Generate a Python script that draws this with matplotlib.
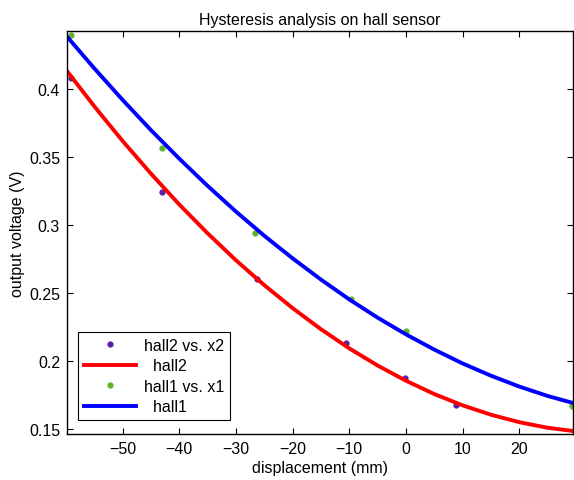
import numpy as np
import matplotlib
matplotlib.use("Agg")
import matplotlib.pyplot as plt

x2 = [-59.1, -43.0, -26.3, -10.6, -0.2, 8.8]
hall2_pts = [0.4081, 0.3243, 0.2603, 0.2132, 0.1875, 0.1676]
x1 = [-59.1, -43.0, -26.6, -9.7, 0.0, 29.3]
hall1_pts = [0.4397, 0.3566, 0.2941, 0.2456, 0.2221, 0.1669]

# fitted curves, sampled along the displacement axis
xc = [-59.8, -55, -50, -45, -40, -35, -30, -25, -20, -15, -10, -5,
      0, 5, 10, 15, 20, 25, 29.5]
hall2_fit = [0.4132, 0.3873, 0.3618, 0.3378, 0.3151, 0.2939, 0.2741, 0.2558,
             0.2389, 0.2234, 0.2093, 0.1967, 0.1855, 0.1757, 0.1674, 0.1605,
             0.1550, 0.1509, 0.1485]
hall1_fit = [0.4385, 0.4152, 0.3920, 0.3698, 0.3488, 0.3288, 0.3099, 0.2921,
             0.2755, 0.2599, 0.2453, 0.2319, 0.2196, 0.2084, 0.1982, 0.1892,
             0.1812, 0.1743, 0.1691]

xticks = [-50, -40, -30, -20, -10, 0, 10, 20]
yticks = [0.15, 0.2, 0.25, 0.3, 0.35, 0.4]

fs = 11.5
plt.rcParams['font.family'] = ['Liberation Sans', 'DejaVu Sans']
plt.rcParams['font.size'] = fs

fig = plt.figure(figsize=(5.74, 4.81), dpi=100)
ax = fig.add_axes([67/574, 46/481, 506/574, 403/481])

ax.plot(x2, hall2_pts, '.', color='#5b1fa6', markersize=7, label='hall2 vs. x2')
ax.plot(xc, hall2_fit, '-', color='#ff0000', linewidth=2.8, label='  hall2')
ax.plot(x1, hall1_pts, '.', color='#5fb526', markersize=7, label='hall1 vs. x1')
ax.plot(xc, hall1_fit, '-', color='#0000ff', linewidth=2.8, label='  hall1')

ax.set_xlim(-59.8, 29.5)
ax.set_ylim(0.1463, 0.4426)
ax.set_xticks(xticks)
ax.set_yticks(yticks)
ax.set_xticklabels(['\u221250', '\u221240', '\u221230', '\u221220', '\u221210', '0', '10', '20'])
ax.set_yticklabels(['0.15', '0.2', '0.25', '0.3', '0.35', '0.4'])
ax.tick_params(direction='in', top=True, right=True, length=4, width=0.8,
               labelsize=fs, pad=5)
for s in ax.spines.values():
    s.set_linewidth(1.0)

ax.set_xlabel('displacement (mm)', fontsize=fs, labelpad=3)
ax.set_ylabel('output voltage (V)', fontsize=fs, labelpad=3)
ax.set_title('Hysteresis analysis on hall sensor', fontsize=fs, pad=5)

leg = ax.legend(loc='lower left', bbox_to_anchor=(0.0217, 0.0347), borderaxespad=0,
                fancybox=False, edgecolor='black', framealpha=1, fontsize=fs,
                handlelength=3.3, handletextpad=0.5, labelspacing=0.35,
                borderpad=0.35)
leg.get_frame().set_linewidth(0.8)

fig.savefig('out.png', dpi=100)
